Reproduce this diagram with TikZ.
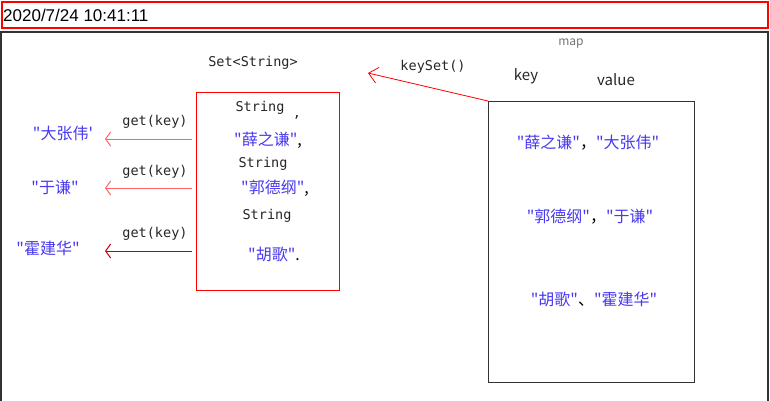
\documentclass[tikz,border=0pt]{standalone}
\usepackage{fontspec}
\setmainfont{Liberation Sans}
\setmonofont{DejaVu Sans Mono}
\newfontfamily\cjk{Noto Sans CJK SC}
\usepackage{xcolor}
\usetikzlibrary{arrows.meta,positioning,calc}

\definecolor{namecol}{RGB}{72,56,240}
\definecolor{framegray}{RGB}{50,50,50}
\definecolor{linkred}{RGB}{255,100,100}

\begin{document}
\begin{tikzpicture}[x=1pt,y=-1pt,
    code/.style={font=\ttfamily\fontsize{13.5}{15}\selectfont, text=black!85, inner sep=0pt},
    person/.style={font=\cjk\fontsize{16}{18}\selectfont, text=namecol, inner sep=0pt},
    colhead/.style={font=\cjk\fontsize{15}{17}\selectfont, text=black!85, inner sep=0pt},
    getarrow/.style={linkred, line width=1pt, -{Straight Barb[length=5pt,width=14pt]}}]
    \useasboundingbox (0,0) rectangle (770,401);

    % Header
    \draw[red, line width=2pt] (2,2) rectangle (768,28);
    \node[anchor=west, inner sep=0pt, font=\fontsize{17}{19}\selectfont] (stamp) at (3,15) {2020/7/24 10:41:11};

    % Frame
    \draw[framegray, line width=2.5pt] (1,405) -- (1,32) -- (768,32) -- (768,405);

    % Map
    \node[font=\cjk\fontsize{12}{14}\selectfont, text=black!55, inner sep=0pt] (maplbl) at (571,44) {map};
    \node[colhead] (keylbl) at (526,76) {key};
    \node[colhead] (vallbl) at (616,80) {value};
    \node[draw=framegray, line width=1.2pt, minimum width=206, minimum height=281, anchor=north west] (map) at (488,101) {};
    \node[person] (m1) at (588,143) {"薛之谦"\textcolor{black}{，}"大张伟"};
    \node[person] (m2) at (590,217) {"郭德纲"\textcolor{black}{，}"于谦"};
    \node[person] (m3) at (594,299) {"胡歌"\textcolor{black}{、}"霍建华"};

    % keySet
    \node[code] (keyset) at (433,67) {keySet()};
    \coordinate (ks) at (368,73);
    \draw[red, line width=0.8pt, -{Straight Barb[length=9pt,width=16pt]}] (map.north west) -- (ks);

    % Set
    \node[code] (setlbl) at (253,63) {Set<String>};
    \node[draw=red, line width=1.2pt, minimum width=143, minimum height=198, anchor=north west] (set) at (196,92) {};
    \node[code] (s1) at (260,108) {String};
    \node[code] (c1) at (297,117) {,};
    \node[person] (k1) at (268,140) {"薛之谦"\textcolor{black}{,}};
    \node[code] (s2) at (263,164) {String};
    \node[person] (k2) at (275,188) {"郭德纲"\textcolor{black}{,}};
    \node[code] (s3) at (267,216) {String};
    \node[person] (k3) at (274,254) {"胡歌"\textcolor{black}{.}};

    % get(key)
    \node[code] (g1) at (155,122) {get(key)};
    \node[code] (g2) at (155,172) {get(key)};
    \node[code] (g3) at (155,234) {get(key)};
    \node[person] (v1) at (63,133) {"大张伟'};
    \node[person] (v2) at (55,187) {"于谦"};
    \node[person] (v3) at (48,248) {"霍建华"};
    \coordinate (t1) at (105,139);
    \coordinate (t2) at (105,188);
    \coordinate (t3) at (105,251);
    \draw[getarrow] ([xshift=-4pt]set.west |- t1) -- (t1);
    \draw[getarrow] ([xshift=-4pt]set.west |- t2) -- (t2);
    \draw[getarrow, red!75!black] ([xshift=-4pt]set.west |- t3) -- (t3);
\end{tikzpicture}
\end{document}
